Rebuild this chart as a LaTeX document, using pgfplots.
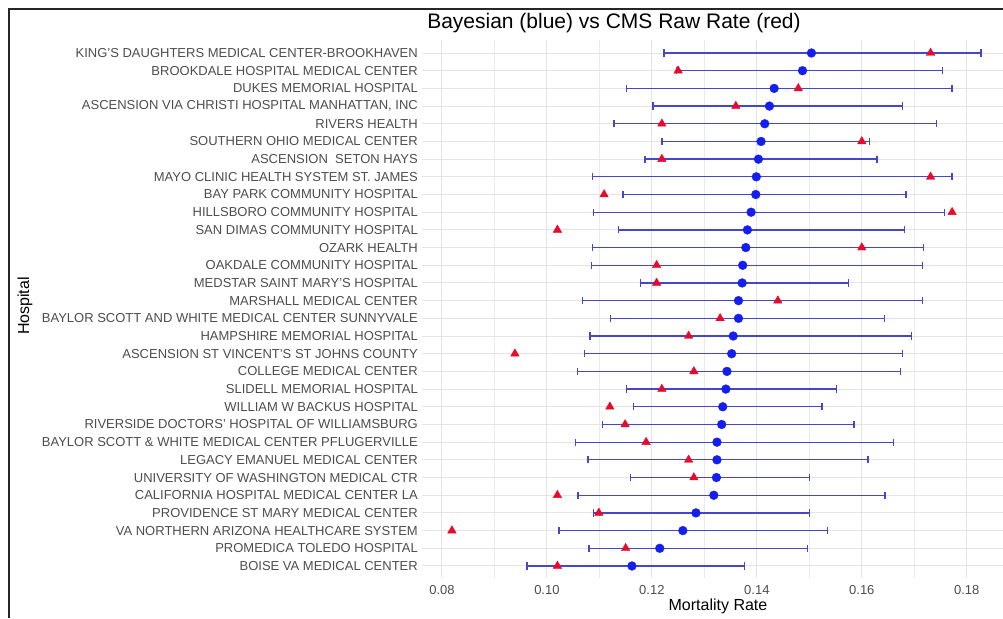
\documentclass[border=0pt]{standalone}
\usepackage{fontspec}
\setmainfont{Liberation Sans}
\usepackage{pgfplots}
\pgfplotsset{compat=1.18}
\usepackage{pgfplotstable}
\definecolor{errcol}{RGB}{70,70,200}
\definecolor{dotblue}{RGB}{20,30,240}
\definecolor{trired}{RGB}{232,10,40}
\definecolor{gridc}{RGB}{228,228,228}
\definecolor{ticktext}{RGB}{77,77,77}

\pgfplotstableread{
idx L B R U
1 0.1223 0.1504 0.1731 0.1827
2 0.1247 0.1487 0.1250 0.1754
3 0.1152 0.1433 0.1479 0.1772
4 0.1202 0.1424 0.1360 0.1677
5 0.1128 0.1415 0.1219 0.1742
6 0.1219 0.1408 0.1600 0.1615
7 0.1187 0.1403 0.1219 0.1629
8 0.1087 0.1399 0.1731 0.1772
9 0.1145 0.1398 0.1109 0.1684
10 0.1089 0.1389 0.1772 0.1757
11 0.1137 0.1382 0.1020 0.1681
12 0.1087 0.1379 0.1600 0.1718
13 0.1085 0.1373 0.1209 0.1715
14 0.1178 0.1372 0.1209 0.1574
15 0.1068 0.1365 0.1440 0.1715
16 0.1121 0.1365 0.1330 0.1643
17 0.1082 0.1355 0.1270 0.1694
18 0.1072 0.1352 0.0939 0.1677
19 0.1058 0.1343 0.1280 0.1674
20 0.1152 0.1341 0.1219 0.1552
21 0.1165 0.1335 0.1120 0.1524
22 0.1106 0.1333 0.1149 0.1585
23 0.1055 0.1324 0.1189 0.1661
24 0.1078 0.1324 0.1270 0.1612
25 0.1159 0.1323 0.1280 0.1500
26 0.1059 0.1318 0.1020 0.1644
27 0.1089 0.1284 0.1099 0.1500
28 0.1023 0.1259 0.0819 0.1535
29 0.1080 0.1215 0.1150 0.1497
30 0.0962 0.1162 0.1020 0.1376
}\data

\begin{document}
\begin{tikzpicture}
\useasboundingbox (0pt,0pt) rectangle (1003pt,618pt);
\draw[line width=1.6pt, black!85] (9pt,0pt) -- (9pt,609pt) -- (1003pt,609pt);
\begin{axis}[
  at={(422pt,40pt)}, anchor=south west,
  scale only axis, width=581pt, height=538pt,
  xmin=0.0762, xmax=0.1869,
  ymin=0.265, ymax=30.68, y dir=reverse,
  axis line style={draw=none},
  tick style={draw=none},
  major tick length=0pt, minor tick length=0pt,
  xtick={0.08,0.10,0.12,0.14,0.16,0.18},
  xticklabels={0.08,0.10,0.12,0.14,0.16,0.18},
  minor xtick={0.09,0.11,0.13,0.15,0.17},
  ytick={1,...,30},
  yticklabels={
    {KING'S DAUGHTERS MEDICAL CENTER-BROOKHAVEN},
    {BROOKDALE HOSPITAL MEDICAL CENTER},
    {DUKES MEMORIAL HOSPITAL},
    {ASCENSION VIA CHRISTI HOSPITAL MANHATTAN, INC},
    {RIVERS HEALTH},
    {SOUTHERN OHIO MEDICAL CENTER},
    {ASCENSION\ \ SETON HAYS},
    {MAYO CLINIC HEALTH SYSTEM ST. JAMES},
    {BAY PARK COMMUNITY HOSPITAL},
    {HILLSBORO COMMUNITY HOSPITAL},
    {SAN DIMAS COMMUNITY HOSPITAL},
    {OZARK HEALTH},
    {OAKDALE COMMUNITY HOSPITAL},
    {MEDSTAR SAINT MARY'S HOSPITAL},
    {MARSHALL MEDICAL CENTER},
    {BAYLOR SCOTT AND WHITE MEDICAL CENTER SUNNYVALE},
    {HAMPSHIRE MEMORIAL HOSPITAL},
    {ASCENSION ST VINCENT'S ST JOHNS COUNTY},
    {COLLEGE MEDICAL CENTER},
    {SLIDELL MEMORIAL HOSPITAL},
    {WILLIAM W BACKUS HOSPITAL},
    {RIVERSIDE DOCTORS' HOSPITAL OF WILLIAMSBURG},
    {BAYLOR SCOTT \& WHITE MEDICAL CENTER PFLUGERVILLE},
    {LEGACY EMANUEL MEDICAL CENTER},
    {UNIVERSITY OF WASHINGTON MEDICAL CTR},
    {CALIFORNIA HOSPITAL MEDICAL CENTER LA},
    {PROVIDENCE ST MARY MEDICAL CENTER},
    {VA NORTHERN ARIZONA HEALTHCARE SYSTEM},
    {PROMEDICA TOLEDO HOSPITAL},
    {BOISE VA MEDICAL CENTER}},
  grid=both,
  major grid style={gridc, line width=1pt},
  minor grid style={gridc!75!white, line width=0.7pt},
  tick label style={font=\fontsize{13}{15}\selectfont, text=ticktext},
  /pgf/number format/assume math mode=true,
  yticklabel style={anchor=east, inner sep=0pt, xshift=-4pt},
  xticklabel style={anchor=base, inner sep=0pt, yshift=-16.6pt},
  clip=false,
]
\addplot[draw=none, mark=*, mark size=4.4pt, mark options={dotblue, fill=dotblue},
  error bars/.cd, x dir=both, x explicit,
  error bar style={errcol, line width=1.3pt},
  error mark=|,
  error mark options={errcol, line width=1.3pt, mark size=3.6pt}]
  table[x=B, y=idx,
        x error plus expr=\thisrow{U}-\thisrow{B},
        x error minus expr=\thisrow{B}-\thisrow{L}] {\data};
\addplot[draw=none, mark=triangle*, mark size=4.9pt, mark options={trired, fill=trired}]
  table[x=R, y=idx] {\data};
\end{axis}
\node[font=\fontsize{21}{25}\selectfont] at (614pt,595pt) {Bayesian (blue) vs CMS Raw Rate (red)};
\node[rotate=90, font=\fontsize{16}{19}\selectfont] at (25pt,312pt) {Hospital};
\node[font=\fontsize{16}{19}\selectfont] at (718pt,12pt) {Mortality Rate};
\end{tikzpicture}
\end{document}
